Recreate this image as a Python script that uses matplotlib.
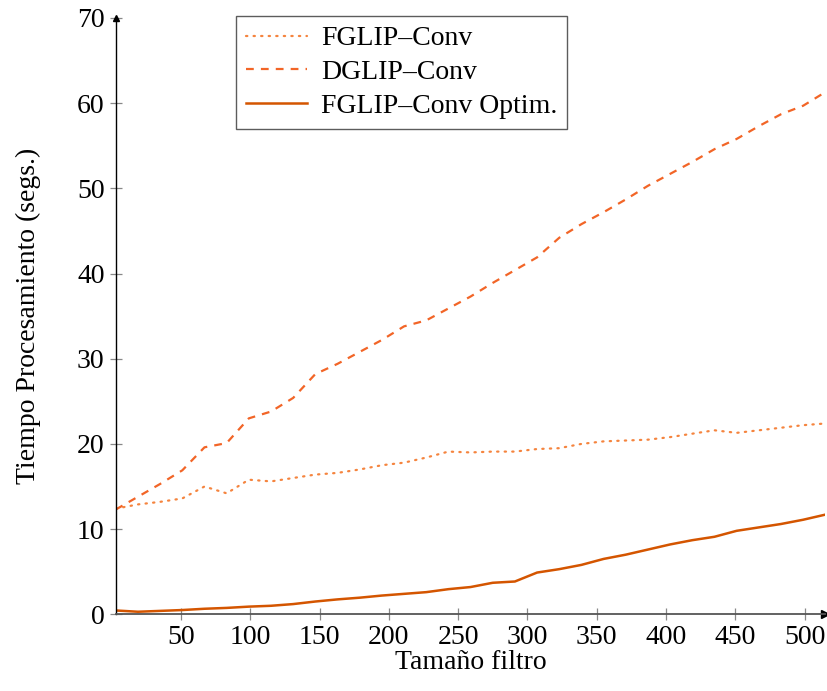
import matplotlib
matplotlib.use("Agg")
import matplotlib.pyplot as plt

# tamaños de filtro (eje x)
tam_filtro = [3, 19, 35, 51, 67, 83, 99, 115, 131, 147, 163, 179, 195, 211, 227, 243,
              259, 275, 291, 307, 323, 339, 355, 371, 387, 403, 419, 435, 451, 467,
              483, 499, 515]

# tiempos de procesamiento (segs.)
fglip_conv = [12.4, 12.9, 13.2, 13.6, 15.0, 14.2, 15.8, 15.6, 16.0, 16.4, 16.6, 17.0,
              17.5, 17.8, 18.4, 19.1, 19.0, 19.1, 19.1, 19.4, 19.5, 20.0, 20.3, 20.4,
              20.5, 20.8, 21.2, 21.6, 21.3, 21.6, 21.9, 22.2, 22.4]
dglip_conv = [12.3, 13.8, 15.3, 16.9, 19.6, 20.1, 23.0, 23.8, 25.4, 28.2, 29.4, 30.8,
              32.2, 33.8, 34.5, 35.9, 37.3, 38.9, 40.4, 41.9, 44.2, 45.8, 47.2, 48.7,
              50.3, 51.7, 53.1, 54.6, 55.8, 57.3, 58.7, 59.7, 61.3]
fglip_optim = [0.45, 0.3, 0.4, 0.5, 0.65, 0.75, 0.9, 1.0, 1.2, 1.5, 1.75, 1.95, 2.2,
               2.4, 2.6, 2.95, 3.2, 3.7, 3.85, 4.9, 5.3, 5.8, 6.5, 7.0, 7.6, 8.2, 8.7,
               9.1, 9.8, 10.2, 10.6, 11.1, 11.7]

etiquetas = ["FGLIP–Conv", "DGLIP–Conv", "FGLIP–Conv Optim."]

plt.rcParams['font.family'] = ['Liberation Serif', 'DejaVu Serif']

fig = plt.figure(figsize=(8.27, 6.91), dpi=100)
ax = fig.add_axes([0.140, 0.111, 0.858, 0.863])

ax.plot(tam_filtro, fglip_conv, linestyle=(0, (0.6, 2.8)), dash_capstyle='round',
        color='#f5843e', linewidth=1.6, label=etiquetas[0])
ax.plot(tam_filtro, dglip_conv, linestyle=(0, (3.5, 3.2)), color='#f26527',
        linewidth=1.6, label=etiquetas[1])
ax.plot(tam_filtro, fglip_optim, linestyle='-', color='#d45500', linewidth=1.8,
        label=etiquetas[2])

ax.set_xlim(3, 515)
ax.set_ylim(0, 70)
ax.set_xticks([50, 100, 150, 200, 250, 300, 350, 400, 450, 500])
ax.set_yticks([0, 10, 20, 30, 40, 50, 60, 70])

ax.spines['top'].set_visible(False)
ax.spines['right'].set_visible(False)
ax.spines['left'].set_color('black')
ax.spines['bottom'].set_color('#555555')
ax.spines['bottom'].set_linewidth(1.3)
ax.spines['left'].set_linewidth(1.0)
ax.tick_params(axis='both', direction='inout', length=8, width=0.9, color='#888888',
               labelsize=20, pad=4)

# flechas de los ejes
ax.plot(1, 0, marker='>', color='black', markersize=6, transform=ax.transAxes, clip_on=False)
ax.plot(0, 1, marker='^', color='black', markersize=5, transform=ax.transAxes, clip_on=False)

ax.set_xlabel('Tamaño filtro', fontsize=20, labelpad=0)
ax.set_ylabel('Tiempo Procesamiento (segs.)', fontsize=20, labelpad=26)

leg = ax.legend(loc='upper left', bbox_to_anchor=(0.17, 1.003), borderaxespad=0,
                fontsize=20, frameon=True, fancybox=False, handlelength=2.2,
                borderpad=0.35, labelspacing=0.3, handletextpad=0.5)
leg.get_frame().set_edgecolor('#333333')
leg.get_frame().set_linewidth(1.0)

fig.savefig('out.png', dpi=100)
